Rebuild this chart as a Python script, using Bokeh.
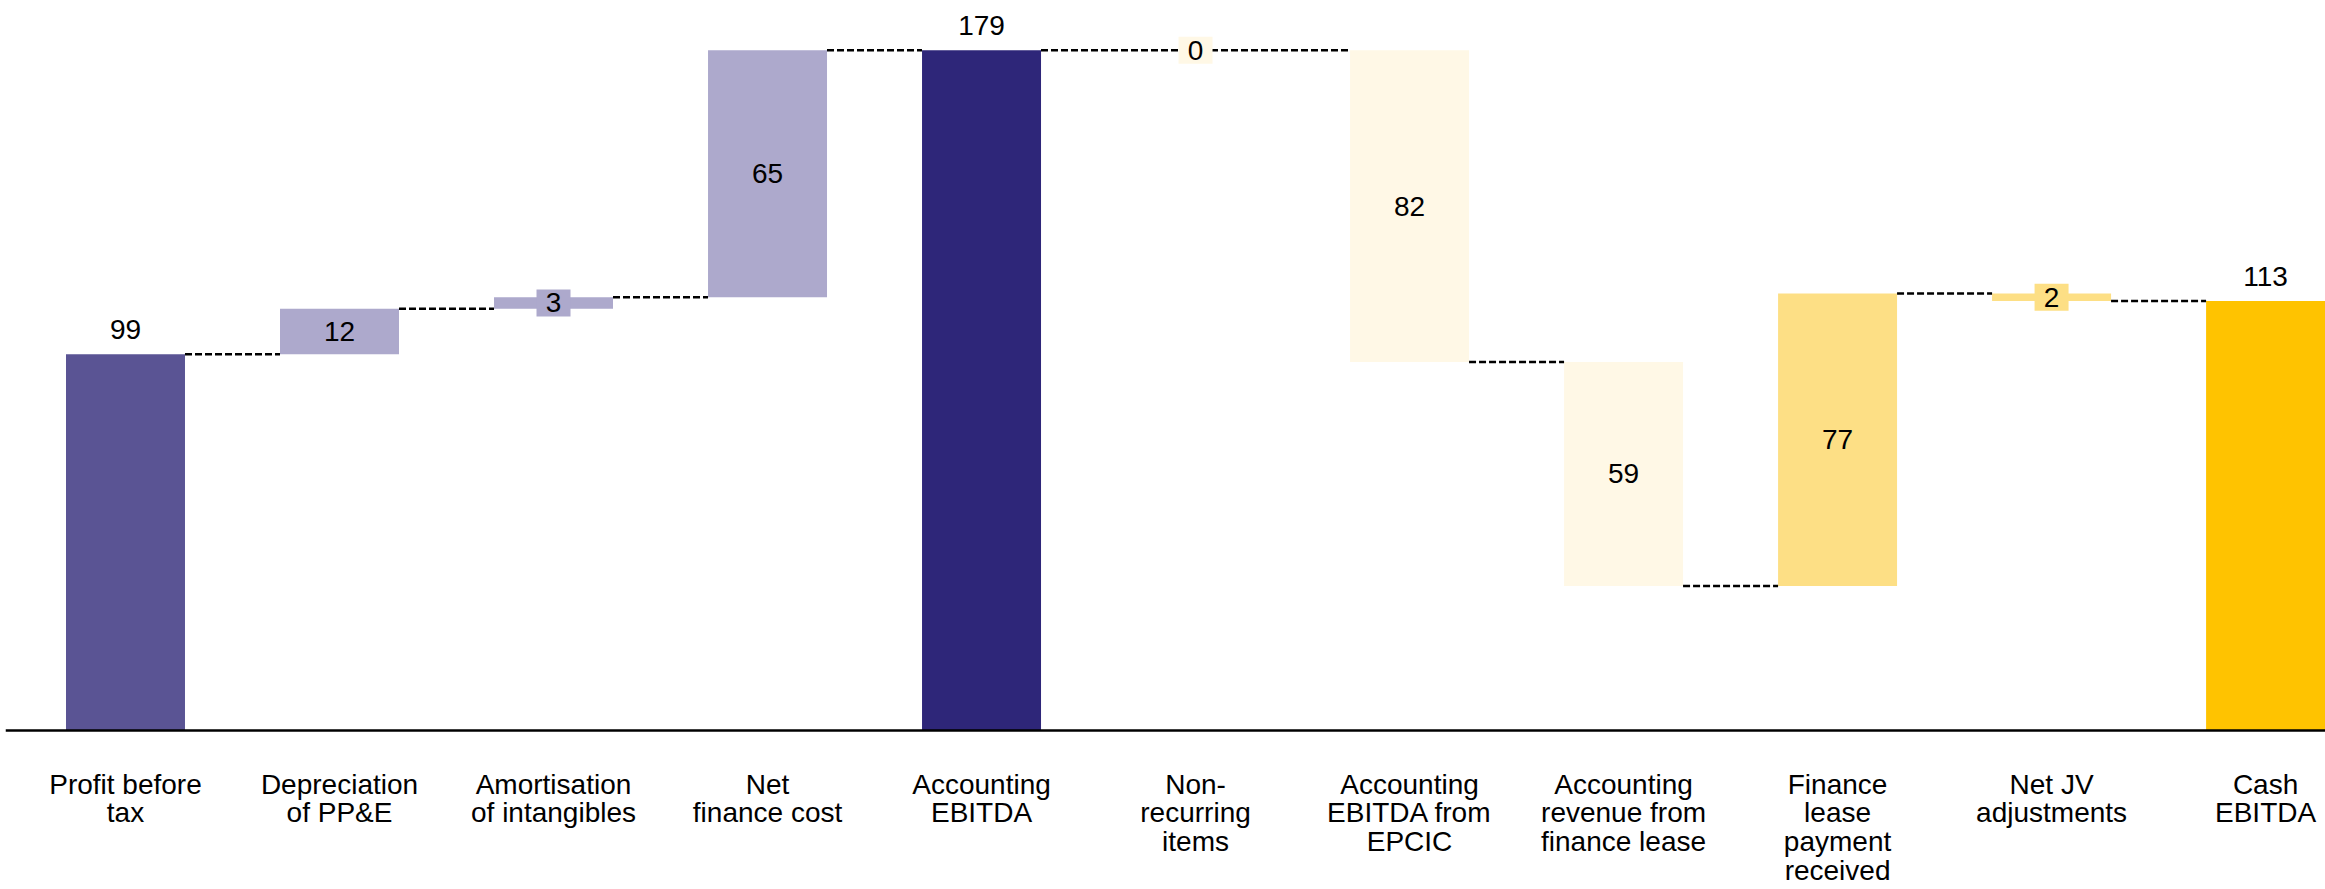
from bokeh.plotting import figure
from bokeh.models import Range1d, Span, ColumnDataSource
from bokeh.core.properties import value
from bokeh.embed import file_html
from bokeh.resources import INLINE

# Bridge from profit before tax to cash EBITDA
categories = [
    "Profit before\ntax",
    "Depreciation\nof PP&E",
    "Amortisation\nof intangibles",
    "Net\nfinance cost",
    "Accounting\nEBITDA",
    "Non-\nrecurring\nitems",
    "Accounting\nEBITDA from\nEPCIC",
    "Accounting\nrevenue from\nfinance lease",
    "Finance\nlease\npayment\nreceived",
    "Net JV\nadjustments",
    "Cash\nEBITDA",
]
# signed movements; totals are absolute levels
amounts = [99, 12, 3, 65, 179, 0, -82, -59, 77, -2, 113]
is_total = [True, False, False, False, True, False, False, False, False, False, True]
colors = [
    "#5A5494", "#ADA9CC", "#ADA9CC", "#ADA9CC", "#2E2679",
    "#FFF8E6", "#FFF8E6", "#FFF8E6", "#FDDF85", "#FDDF85", "#FFC300",
]

FONT = "Liberation Sans"
FONT_SIZE = "28px"
BAR_W = 0.556
SMALL = 5  # movements below this get a boxed label

# running totals -> bar bottoms / tops / end levels
bottoms, tops, ends = [], [], []
level = 0
for amt, tot in zip(amounts, is_total):
    if tot:
        bottoms.append(0)
        tops.append(amt)
        level = amt
    else:
        start = level
        level = level + amt
        bottoms.append(min(start, level))
        tops.append(max(start, level))
    ends.append(level)

xs = list(range(len(categories)))

p = figure(
    width=2325, height=889,
    x_range=Range1d(-0.5607, 10.280), y_range=Range1d(-41.84, 192.1),
    x_axis_type=None, y_axis_type=None,
    output_backend="svg", toolbar_location=None,
    min_border_left=5, min_border_right=0, min_border_top=0, min_border_bottom=0,
)
p.outline_line_color = None
p.background_fill_color = "white"
p.border_fill_color = "white"

bars = ColumnDataSource(dict(x=xs, bottom=bottoms, top=tops, color=colors))
p.vbar(x="x", bottom="bottom", top="top", width=BAR_W, fill_color="color",
       line_color=None, source=bars)

# zero baseline
p.add_layout(Span(location=0, dimension="width", line_color="black", line_width=2.5))

# dashed connectors between consecutive visible bars
vis = [i for i in xs if amounts[i] != 0]
cx0, cx1, cy = [], [], []
for a, b in zip(vis[:-1], vis[1:]):
    cx0.append(a + BAR_W / 2)
    cx1.append(b - BAR_W / 2)
    cy.append(ends[a])
p.segment(x0=cx0, y0=cy, x1=cx1, y1=cy, line_color="black", line_width=2.5,
          line_dash="7 3")

# value labels
tot_x, tot_y, tot_t = [], [], []
mid_x, mid_y, mid_t = [], [], []
box_x, box_y, box_c = [], [], []
for i in xs:
    label = str(abs(amounts[i]))
    if is_total[i]:
        tot_x.append(i); tot_y.append(tops[i]); tot_t.append(label)
    else:
        yc = (bottoms[i] + tops[i]) / 2
        mid_x.append(i); mid_y.append(yc); mid_t.append(label)
        if abs(amounts[i]) < SMALL:
            box_x.append(i); box_y.append(yc); box_c.append(colors[i])

p.rect(x=box_x, y=box_y, width=34, height=27, width_units="screen",
       height_units="screen", fill_color=box_c, line_color=None)

p.text(x=tot_x, y=tot_y, text=tot_t, text_align="center", text_baseline="alphabetic",
       y_offset=-25, text_font=value(FONT), text_font_size=FONT_SIZE, text_color="black")
p.text(x=mid_x, y=mid_y, text=mid_t, text_align="center", text_baseline="middle",
       text_font=value(FONT), text_font_size=FONT_SIZE, text_color="black")

# category labels under the baseline
p.text(x=xs, y=[0] * len(xs), text=categories, text_align="center", text_baseline="top",
       y_offset=38, text_font=value(FONT), text_font_size=FONT_SIZE, text_color="black",
       text_line_height=0.93)

open("out.html", "w").write(file_html(p, INLINE))
